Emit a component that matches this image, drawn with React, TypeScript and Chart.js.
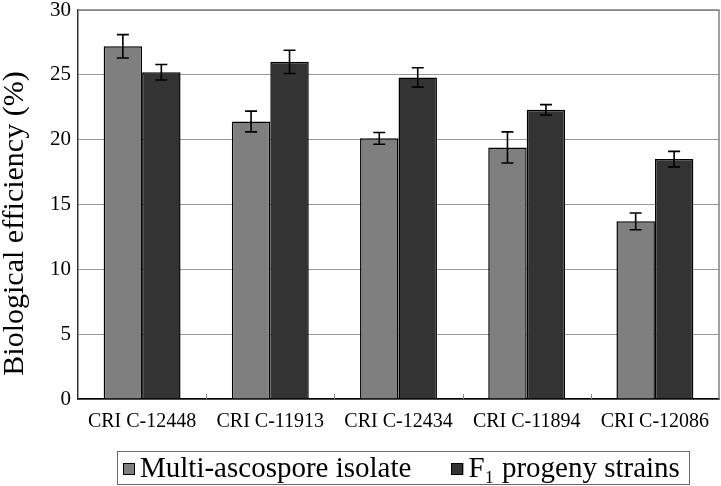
import React, { useEffect, useRef } from "react";
import { Chart, registerables } from "chart.js";

Chart.register(...registerables);

const categories = ["CRI C-12448", "CRI C-11913", "CRI C-12434", "CRI C-11894", "CRI C-12086"];
const multiValues = [27.2, 21.4, 20.1, 19.4, 13.7];
const multiErrors = [0.9, 0.8, 0.45, 1.2, 0.65];
const f1Values = [25.2, 26.0, 24.8, 22.3, 18.5];
const f1Errors = [0.6, 0.9, 0.75, 0.4, 0.6];
const seriesLabels = ["Multi-ascospore isolate", "F\u2081 progeny strains"];
const seriesColors = ["#7f7f7f", "#333333"];
const yTicks = [0, 5, 10, 15, 20, 25, 30];
const yTitle = "Biological efficiency (%)";

const FONT = '"Liberation Serif", "DejaVu Serif", serif';

const errorBarPlugin = {
  id: "errorBars",
  afterDatasetsDraw(chart: any) {
    const ctx = chart.ctx;
    const yScale = chart.scales.y;
    const errs = [multiErrors, f1Errors];
    ctx.save();
    ctx.strokeStyle = "#000";
    ctx.lineWidth = 1.6;
    chart.data.datasets.forEach((ds: any, di: number) => {
      const meta = chart.getDatasetMeta(di);
      meta.data.forEach((bar: any, i: number) => {
        const v = ds.data[i];
        const e = errs[di][i];
        const x = bar.x;
        const yTop = yScale.getPixelForValue(v + e);
        const yBot = yScale.getPixelForValue(v - e);
        const cap = 6;
        ctx.beginPath();
        ctx.moveTo(x, yTop);
        ctx.lineTo(x, yBot);
        ctx.moveTo(x - cap, yTop);
        ctx.lineTo(x + cap, yTop);
        ctx.moveTo(x - cap, yBot);
        ctx.lineTo(x + cap, yBot);
        ctx.stroke();
      });
    });
    ctx.restore();
  },
};

const framePlugin = {
  id: "frame",
  afterDraw(chart: any) {
    const ctx = chart.ctx;
    const a = chart.chartArea;
    ctx.save();
    ctx.strokeStyle = "#808080";
    ctx.lineWidth = 1.5;
    ctx.beginPath();
    ctx.moveTo(a.left, a.top);
    ctx.lineTo(a.right, a.top);
    ctx.lineTo(a.right, a.bottom);
    ctx.stroke();
    const n = categories.length;
    ctx.strokeStyle = "#888";
    ctx.lineWidth = 1;
    for (let i = 1; i < n; i++) {
      const x = Math.round(a.left + (i * (a.right - a.left)) / n) + 0.5;
      ctx.beginPath();
      ctx.moveTo(x, a.bottom);
      ctx.lineTo(x, a.bottom - 5);
      ctx.stroke();
    }
    ctx.fillStyle = "#000";
    ctx.font = `30px ${FONT}`;
    ctx.textAlign = "center";
    ctx.textBaseline = "alphabetic";
    ctx.translate(23, (a.top + a.bottom) / 2 + 19);
    ctx.rotate(-Math.PI / 2);
    ctx.fillText(yTitle, 0, 0);
    ctx.restore();

    ctx.save();
    ctx.font = `29px ${FONT}`;
    const w1 = ctx.measureText(seriesLabels[0]).width;
    const w2 = ctx.measureText(seriesLabels[1]).width;
    const box = 12;
    const padL = 6, padR = 9, gapText = 5, gapItems = 40;
    const total = padL + box + gapText + w1 + gapItems + box + gapText + w2 + padR;
    const cx = (a.left + a.right) / 2 + 4;
    const left = Math.round(cx - total / 2);
    const H = chart.height;
    const top = H - 35;
    const bottom = H - 2;
    ctx.strokeStyle = "#6a6a6a";
    ctx.lineWidth = 1;
    ctx.strokeRect(left + 0.5, top + 0.5, Math.round(total), bottom - top);
    const baseline = H - 9;
    const markTop = H - 23;
    let x = left + padL;
    const items = [
      { t: seriesLabels[0], w: w1, c: seriesColors[0] },
      { t: seriesLabels[1], w: w2, c: seriesColors[1] },
    ];
    items.forEach((it, i) => {
      ctx.fillStyle = it.c;
      ctx.fillRect(x, markTop, box, box);
      ctx.strokeStyle = "#000";
      ctx.lineWidth = 1;
      ctx.strokeRect(Math.round(x) + 0.5, markTop + 0.5, box - 1, box - 1);
      x += box + gapText;
      ctx.fillStyle = "#000";
      ctx.textAlign = "left";
      ctx.textBaseline = "alphabetic";
      ctx.fillText(it.t, x, baseline);
      x += it.w + (i === 0 ? gapItems : 0);
    });
    ctx.restore();
  },
};

export default function App() {
  const ref = useRef<HTMLCanvasElement>(null);
  useEffect(() => {
    if (!ref.current) return;
    const chart = new Chart(ref.current, {
      type: "bar",
      data: {
        labels: categories,
        datasets: [
          {
            label: seriesLabels[0],
            data: multiValues,
            backgroundColor: seriesColors[0],
            borderColor: "#000",
            borderWidth: 1.5,
            categoryPercentage: 0.6,
            barPercentage: 1.0,
          },
          {
            label: seriesLabels[1],
            data: f1Values,
            backgroundColor: seriesColors[1],
            borderColor: "#000",
            borderWidth: 1.5,
            categoryPercentage: 0.6,
            barPercentage: 1.0,
          },
        ],
      },
      options: {
        animation: false,
        responsive: true,
        maintainAspectRatio: false,
        layout: { padding: { top: 10, right: 2, left: 0, bottom: 52 } },
        plugins: {
          tooltip: { enabled: false },
          legend: { display: false },
        },
        scales: {
          x: {
            grid: { display: false },
            border: { color: "#000", width: 1.5 },
            ticks: {
              color: "#000",
              font: { family: FONT, size: 20 },
              padding: 3,
              maxRotation: 0,
              autoSkip: false,
            },
            afterFit: (s: any) => {
              s.height = 35;
              s.paddingLeft = 0;
              s.paddingRight = 0;
            },
          },
          y: {
            min: 0,
            max: 30,
            afterBuildTicks: (s: any) => {
              s.ticks = yTicks.map((v) => ({ value: v }));
            },
            grid: { color: "#9a9a9a", lineWidth: 1, drawTicks: false },
            border: { color: "#333", width: 1.5 },
            ticks: {
              color: "#000",
              font: { family: FONT, size: 21 },
              padding: 7,
            },
            afterFit: (s: any) => {
              s.width = 78;
              s.paddingTop = 0;
              s.paddingBottom = 0;
            },
          },
        },
      },
      plugins: [errorBarPlugin, framePlugin],
    });
    return () => chart.destroy();
  }, []);
  return (
    <div style={{ position: "fixed", left: 0, top: 0, width: 721, height: 486, background: "#fff" }}>
      <canvas ref={ref} />
    </div>
  );
}
